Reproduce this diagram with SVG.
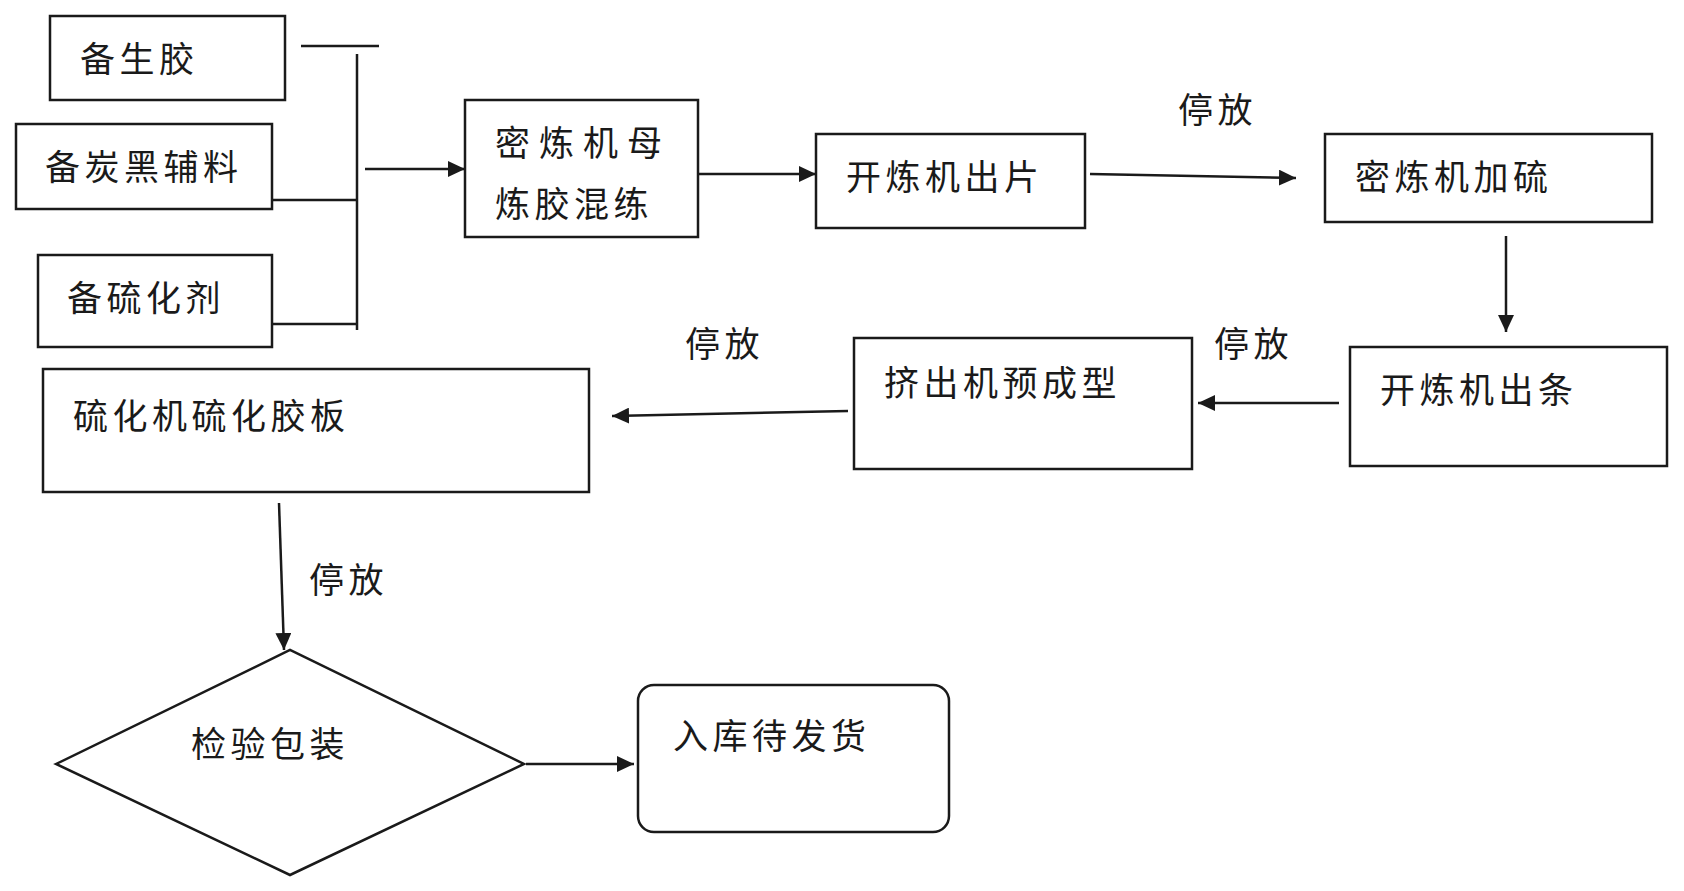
<svg xmlns="http://www.w3.org/2000/svg" width="1684" height="891" viewBox="0 0 1684 891">
<style>
.box{fill:#fff;stroke:#1a1a1a;stroke-width:2.5}
.t{font-family:"Noto Sans CJK SC","Noto Sans",sans-serif;font-size:35px;fill:#1a1a1a;letter-spacing:4.5px;dominant-baseline:central}
.ln{fill:none;stroke:#1a1a1a;stroke-width:2.5}
.ar{fill:none;stroke:#1a1a1a;stroke-width:2.5;marker-end:url(#ah)}
</style>
<defs>
<marker id="ah" markerUnits="userSpaceOnUse" markerWidth="18" markerHeight="16" refX="17" refY="8" orient="auto">
<path d="M0,0 L17,8 L0,16 z" fill="#1a1a1a"/>
</marker>
</defs>
<rect width="1684" height="891" fill="#fff"/>
<g id="n1"><rect class="box" x="50" y="16" width="235" height="84"/><text class="t" x="80" y="56">备生胶</text></g>
<g id="n2"><rect class="box" x="16" y="124" width="256" height="85"/><text class="t" x="45" y="164">备炭黑辅料</text></g>
<g id="n3"><rect class="box" x="38" y="255" width="234" height="92"/><text class="t" x="67" y="295">备硫化剂</text></g>
<g id="n4"><rect class="box" x="465" y="100" width="233" height="137"/><text class="t" x="495" y="140" style="letter-spacing:9px">密炼机母</text><text class="t" x="495" y="201">炼胶混练</text></g>
<g id="n5"><rect class="box" x="816" y="134" width="269" height="94"/><text class="t" x="846" y="174">开炼机出片</text></g>
<g id="n6"><rect class="box" x="1325" y="134" width="327" height="88"/><text class="t" x="1355" y="174">密炼机加硫</text></g>
<g id="n7"><rect class="box" x="1350" y="347" width="317" height="119"/><text class="t" x="1380" y="387">开炼机出条</text></g>
<g id="n8"><rect class="box" x="854" y="338" width="338" height="131"/><text class="t" x="884" y="380">挤出机预成型</text></g>
<g id="n9"><rect class="box" x="43" y="369" width="546" height="123"/><text class="t" x="73" y="413">硫化机硫化胶板</text></g>
<g id="n10"><polygon class="box" points="56,764 290,650 524,764 290,875"/><text class="t" x="191" y="741">检验包装</text></g>
<g id="n11"><rect class="box" x="638" y="685" width="311" height="147" rx="16"/><text class="t" x="673" y="733">入库待发货</text></g>
<g id="connectors">
<line class="ln" x1="301" y1="46" x2="379" y2="46"/>
<line class="ln" x1="357" y1="54" x2="357" y2="330"/>
<line class="ln" x1="272" y1="200" x2="357" y2="200"/>
<line class="ln" x1="272" y1="324" x2="357" y2="324"/>
<line class="ar" x1="365" y1="169" x2="465" y2="169"/>
<line class="ar" x1="698" y1="174" x2="816" y2="174"/>
<line class="ar" x1="1090" y1="174" x2="1296" y2="178"/>
<line class="ar" x1="1506" y1="236" x2="1506" y2="332"/>
<line class="ar" x1="1339" y1="403" x2="1198" y2="403"/>
<line class="ar" x1="848" y1="411" x2="612" y2="416"/>
<line class="ar" x1="279" y1="503" x2="284" y2="650"/>
<line class="ar" x1="526" y1="764" x2="634" y2="764"/>
<text class="t" x="1178" y="107">停放</text>
<text class="t" x="1214" y="341">停放</text>
<text class="t" x="685" y="341">停放</text>
<text class="t" x="309" y="577">停放</text>
</g>
</svg>
